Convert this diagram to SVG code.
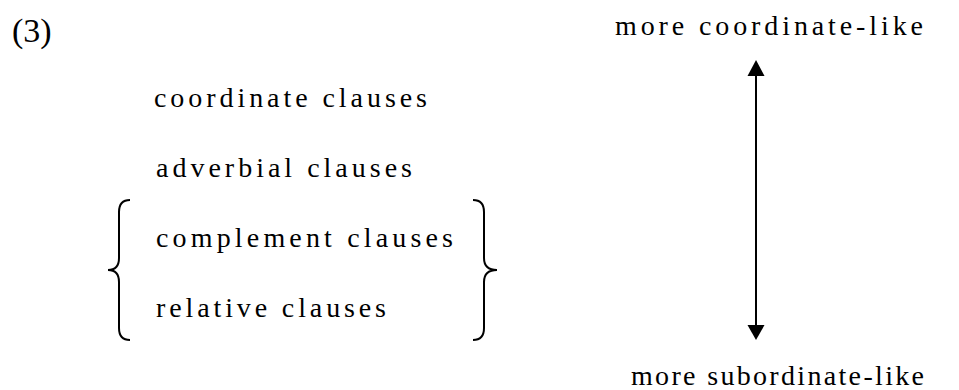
<svg xmlns="http://www.w3.org/2000/svg" width="959" height="390" viewBox="0 0 959 390">
  <style>
    text { font-family: 'Liberation Serif', 'Times New Roman', serif; fill: #000; }
    .row { font-size: 28px; }
    .brace { fill: none; stroke: #000; stroke-width: 2; }
    .axis { stroke: #000; stroke-width: 2; fill: none; }
  </style>

  <text id="label" x="12" y="42" font-size="34">(3)</text>

  <!-- clause types, spacing stretched to a fixed line width -->
  <g id="clauses">
    <g id="coordinate"><text class="row" x="154" y="107" textLength="273" lengthAdjust="spacing">coordinate clauses</text></g>
    <g id="adverbial"><text class="row" x="156" y="177" textLength="256" lengthAdjust="spacing">adverbial clauses</text></g>
    <g id="complement"><text class="row" x="156" y="247" textLength="297" lengthAdjust="spacing">complement clauses</text></g>
    <g id="relative"><text class="row" x="156" y="317" textLength="230" lengthAdjust="spacing">relative clauses</text></g>
  </g>

  <g id="braces">
    <path class="brace" d="M130,200 Q119,200 119,212 L119,258 Q119,270 108,270 Q119,270 119,282 L119,328 Q119,340 130,340"/>
    <path class="brace" d="M473,200 Q484,200 484,212 L484,258 Q484,270 497,270 Q484,270 484,282 L484,328 Q484,340 473,340"/>
  </g>

  <g id="top-pole"><text class="row" x="615" y="35" textLength="308" lengthAdjust="spacing">more coordinate-like</text></g>
  <g id="bottom-pole"><text class="row" x="631" y="385" textLength="293" lengthAdjust="spacing">more subordinate-like</text></g>

  <!-- two-headed scale arrow -->
  <g id="connectors">
    <path class="axis" d="M756,75 L756,326"/>
    <path d="M756,60 L747.5,76 L764.5,76 Z" fill="#000"/>
    <path d="M756,340 L747.5,325 L764.5,325 Z" fill="#000"/>
  </g>
</svg>
